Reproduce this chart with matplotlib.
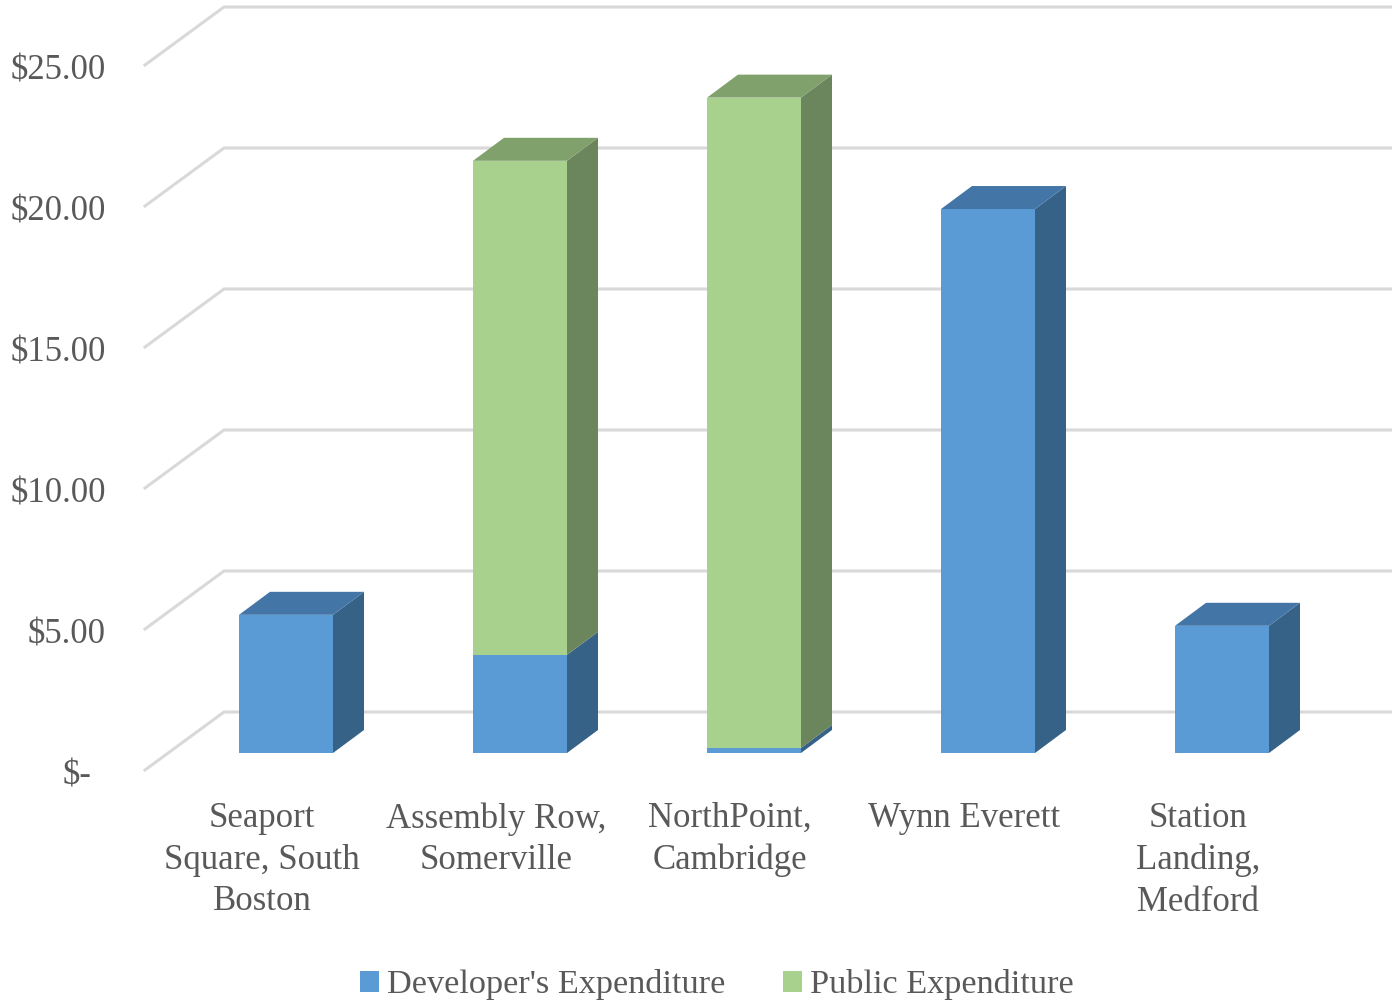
#!/usr/bin/python3
import matplotlib
matplotlib.use("Agg")
import numpy as np
import matplotlib.pyplot as plt

categories = ["Seaport\nSquare, South\nBoston", "Assembly Row,\nSomerville", "NorthPoint,\nCambridge",
              "Wynn Everett", "Station\nLanding,\nMedford"]
developer = [4.90, 3.48, 0.18, 19.29, 4.51]
public = [0.0, 17.52, 23.06, 0.0, 0.0]
ticks = [0, 5, 10, 15, 20, 25]
tick_labels = ["$-", "$5.00", "$10.00", "$15.00", "$20.00", "$25.00"]

blue, blue_top, blue_side = "#5B9BD5", "#4375A6", "#376288"
green, green_top, green_side = "#A9D18E", "#80A06C", "#6B855C"
grid_col = "#D9D9D9"
text_col = "#595959"

plt.rcParams['font.family'] = ['Liberation Serif', 'DejaVu Serif']

W, H = 1392, 1001
xunit, yunit = 234.0, 28.2   # pixels per category / per dollar
x0, y0 = 286, 753            # pixel of first bar centre, bar floor

fig = plt.figure(figsize=(W / 100, H / 100), dpi=100)
ax = fig.add_axes([0, 0, 1, 1])
ax.set_xlim(-x0 / xunit, (W - x0) / xunit)
ax.set_ylim(-(H - y0) / yunit, y0 / yunit)
ax.axis('off')

width = 94 / xunit
dx, dy = 31 / xunit, 23 / yunit       # bar depth
wall_dx, wall_dy = 79 / xunit, 58 / yunit
front_x, front_y = -141 / xunit, -17 / yunit
right = ax.get_xlim()[1]

# back wall and left wall grid
for t in ticks:
    ax.plot([front_x, front_x + wall_dx, right],
            [t + front_y, t + front_y + wall_dy, t + front_y + wall_dy],
            color=grid_col, lw=2.2, zorder=1, solid_joinstyle='miter')

x = np.arange(len(categories))
dev = np.array(developer)
pub = np.array(public)

h1 = ax.bar(x, dev, width, color=blue, zorder=3, label="Developer's Expenditure")
h2 = ax.bar(x, pub, width, bottom=dev, color=green, zorder=3, label="Public Expenditure")


def side(xc, low, high, col):
    xr = xc + width / 2
    ax.fill([xr, xr + dx, xr + dx, xr], [low, low + dy, high + dy, high], color=col, lw=0, zorder=3)


def top(xc, val, col):
    xl, xr = xc - width / 2, xc + width / 2
    ax.fill([xl, xr, xr + dx, xl + dx], [val, val, val + dy, val + dy], color=col, lw=0, zorder=3)


for i in x:
    side(i, 0, dev[i], blue_side)
    if pub[i] > 0:
        side(i, dev[i], dev[i] + pub[i], green_side)
        top(i, dev[i] + pub[i], green_top)
    else:
        top(i, dev[i], blue_top)

# value labels sit on the front edge of the left wall
for t, lab in zip(ticks, tick_labels):
    xt = -180 / xunit if t > 0 else -195 / xunit
    ax.text(xt, t + front_y - 0.22, lab, ha='right', va='center', fontsize=25, color=text_col, parse_math=False)

for i, lab in zip(x, categories):
    ax.text(i - 24 / xunit, -49 / yunit, lab, ha='center', va='top', fontsize=25, color=text_col,
            linespacing=1.35, multialignment='center')

fig.legend(handles=[h1, h2], loc='center', bbox_to_anchor=(717 / W, 1 - 985 / H), ncol=2, frameon=False,
           fontsize=24.7, labelcolor=text_col, handlelength=0.55, handleheight=0.6, handletextpad=0.23,
           columnspacing=1.69, borderpad=0)

fig.savefig("out.png", dpi=100)
